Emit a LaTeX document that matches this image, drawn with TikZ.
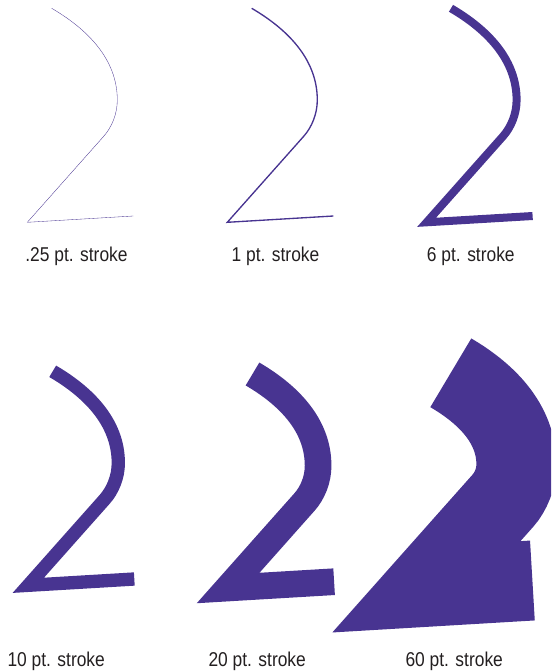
\documentclass[tikz,border=0pt]{standalone}
\usepackage{fontspec}
\setmainfont{Liberation Sans}[FakeStretch=0.87]
\usepackage{tikz}
\definecolor{strokeviolet}{RGB}{72,52,145}
\definecolor{labelgray}{RGB}{35,31,32}

\begin{document}
\begin{tikzpicture}[x=0.75pt,y=-0.75pt,
  twopath/.style={draw=strokeviolet,line join=miter,line cap=butt},
  lbl/.style={anchor=base,inner sep=0pt,font=\fontsize{15}{18}\selectfont,text=labelgray}]
  \useasboundingbox (0,0) rectangle (551,672);
  \clip (0,0) rectangle (551,672);
  % one "2" per stroke weight, same path each time
  \foreach \sx/\sy/\w/\lx/\ly/\t/\i in {51.7/8.3/0.25/76.5/261.7/.25/a, 251.7/8.3/1/275.5/261.7/1/b, 451/8.3/6/470.8/261.7/6/c,
      52.7/371.3/10/56.2/666/10/d, 252.5/374/20/257.2/666/20/e, 450.8/372.8/60/454.2/666/60/f}{
    \draw[twopath,line width=\w pt,shift={(\sx,\sy)}] (0,0) .. controls (34.5,20.2) and (65.6,50) .. (65.6,91.7)
      .. controls (65.6,105.7) and (60,119) .. (52,128) -- (-24.4,214) -- (81.6,207.7);
    \node[lbl] (lbl-\i) at (\lx,\ly) {\t{} pt. stroke};
  }
\end{tikzpicture}
\end{document}
